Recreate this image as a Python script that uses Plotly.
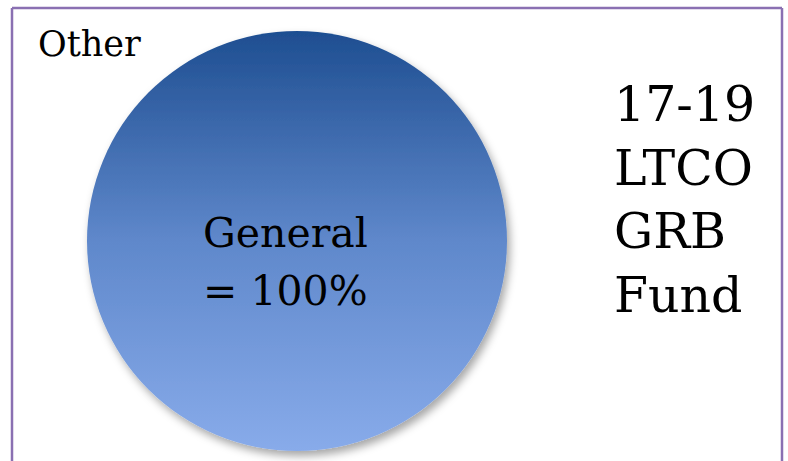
import base64
import plotly.graph_objects as go

# ---- data ----
categories = ["General", "Other"]
values = [100, 0]
title_lines = ["17-19", "LTCO", "GRB", "Fund"]

W, H = 788, 461
FONT = "DejaVu Serif"

# pie domain (paper coords)
dom_x = [0.1104, 0.6434]
dom_y = [0.0195, 0.9350]

# gradient decoration computed from domain
cx = (dom_x[0] + dom_x[1]) / 2 * W
cy = H - (dom_y[0] + dom_y[1]) / 2 * H
r = min((dom_x[1] - dom_x[0]) * W, (dom_y[1] - dom_y[0]) * H) / 2

svg = f'''<svg xmlns="http://www.w3.org/2000/svg" width="{W}" height="{H}" viewBox="0 0 {W} {H}">
<defs>
<linearGradient id="g" x1="0" y1="0" x2="0" y2="1">
<stop offset="0" stop-color="#1E4E91"/>
<stop offset="0.5" stop-color="#5F88CB"/>
<stop offset="1" stop-color="#88ABEA"/>
</linearGradient>
<filter id="s" x="-20%" y="-20%" width="140%" height="140%">
<feDropShadow dx="3" dy="5" stdDeviation="4" flood-color="#000" flood-opacity="0.35"/>
</filter>
</defs>
<circle cx="{cx:.2f}" cy="{cy:.2f}" r="{r:.2f}" fill="url(#g)" filter="url(#s)"/>
</svg>'''
src = "data:image/svg+xml;base64," + base64.b64encode(svg.encode()).decode()

total = sum(values)
pie_labels = [c for c, v in zip(categories, values) if v > 0]
pie_values = [v for v in values if v > 0]

fig = go.Figure(go.Pie(
    labels=pie_labels,
    values=pie_values,
    domain=dict(x=dom_x, y=dom_y),
    marker=dict(colors=["rgba(0,0,0,0)"], line=dict(width=0)),
    textinfo="none",
    sort=False,
    hoverinfo="label+percent",
    showlegend=False,
))

main_label = categories[0]
main_pct = f"= {values[0] / total * 100:.0f}%"

annotations = [
    dict(text=main_label, x=201 / W, y=1 - 250 / H, xref="paper", yref="paper",
         xanchor="left", yanchor="bottom", showarrow=False, yshift=-9,
         font=dict(family=FONT, size=41, color="black")),
    dict(text=main_pct, x=201 / W, y=1 - 308 / H, xref="paper", yref="paper",
         xanchor="left", yanchor="bottom", showarrow=False, yshift=-9,
         font=dict(family=FONT, size=41, color="black")),
    dict(text=categories[1], x=36 / W, y=1 - 22 / H, xref="paper", yref="paper",
         xanchor="left", yanchor="top", showarrow=False,
         font=dict(family=FONT, size=35, color="black")),
    dict(text="<br>".join(title_lines), x=612 / W, y=1 - 74 / H, xref="paper", yref="paper",
         xanchor="left", yanchor="top", align="left", showarrow=False,
         font=dict(family=FONT, size=49, color="black")),
]

border = "#8A70B2"
shapes = [
    dict(type="line", xref="paper", yref="paper", x0=12 / W, x1=782 / W, y0=1 - 8 / H, y1=1 - 8 / H,
         line=dict(color=border, width=2.5)),
    dict(type="line", xref="paper", yref="paper", x0=12 / W, x1=12 / W, y0=0, y1=1 - 8 / H,
         line=dict(color=border, width=2.5)),
    dict(type="line", xref="paper", yref="paper", x0=782 / W, x1=782 / W, y0=0, y1=1 - 8 / H,
         line=dict(color=border, width=2.5)),
]

fig.update_layout(
    width=W, height=H,
    margin=dict(l=0, r=0, t=0, b=0),
    paper_bgcolor="white",
    plot_bgcolor="white",
    annotations=annotations,
    shapes=shapes,
    images=[dict(source=src, xref="paper", yref="paper", x=0, y=1, sizex=1, sizey=1,
                 xanchor="left", yanchor="top", sizing="stretch", layer="below")],
)

fig.write_html("out.html")
